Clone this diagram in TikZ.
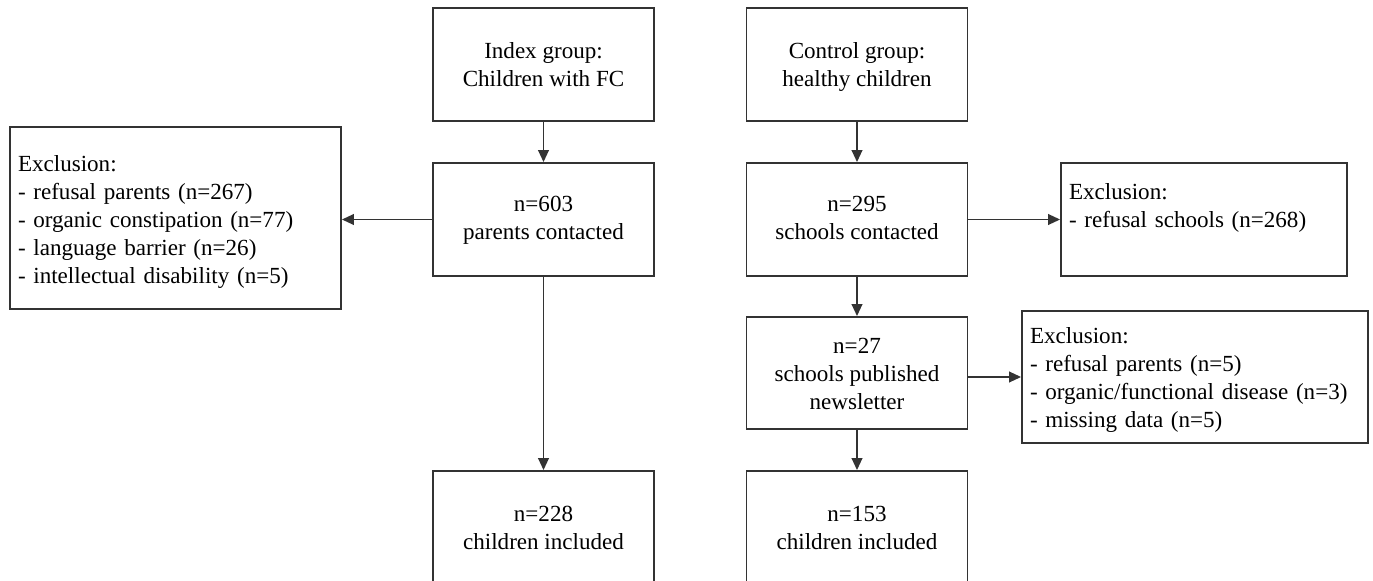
\documentclass[tikz,border=0pt]{standalone}
\usepackage{fontspec}
\setmainfont{Liberation Serif}
\usetikzlibrary{arrows.meta}
\definecolor{linecol}{HTML}{333333}
\newcommand\TopStrut{\rule{0pt}{18.5pt}}
\newcommand\BigTopStrut{\rule{0pt}{20.7pt}}
\begin{document}
\begin{tikzpicture}[x=0.75pt,y=-0.75pt,
  font=\fontsize{17.3pt}{21pt}\selectfont,
  box/.style={draw=linecol, line width=1.4pt, align=center, inner sep=0pt,
    minimum width=165.75pt, minimum height=84.75pt},
  exbox/.style={draw=linecol, line width=1.4pt, align=left, inner xsep=6pt, inner ysep=0pt},
  arr/.style={draw=linecol, line width=1.4pt, -{Triangle[length=9pt,width=8pt]}}]
\useasboundingbox[fill=white] (0,0) rectangle (1373,581);
% left column
\node[box] (idx) at (543.5,64.5) {\TopStrut Index group:\\\strut Children with FC};
\node[box] (par) at (543.5,219.5) {\strut n=603\\\strut parents contacted};
\node[box] (inc1) at (543.5,527.5) {\TopStrut n=228\\\strut children included};
\node[exbox, text width=236.25pt, minimum height=136.5pt] (exL) at (175.5,218)
  {\BigTopStrut Exclusion:\\\strut - refusal parents (n=267)\\\strut - organic constipation (n=77)\\\strut - language barrier (n=26)\\\strut - intellectual disability (n=5)};
% middle column
\node[box] (ctl) at (857,64.5) {\TopStrut Control group:\\\strut healthy children};
\node[box] (sch) at (857,219.5) {\strut n=295\\\strut schools contacted};
\node[box, minimum height=84pt] (n27) at (857,373) {\TopStrut n=27\\\strut schools published\\\strut newsletter};
\node[box] (inc2) at (857,527.5) {\TopStrut n=153\\\strut children included};
% right exclusions
\node[exbox, text width=202.5pt, minimum height=84.75pt] (exR1) at (1204,219.5)
  {\TopStrut Exclusion:\\\strut - refusal schools (n=268)\\\strut};
\node[exbox, text width=247.5pt, minimum height=99pt] (exR2) at (1195,377)
  {\TopStrut Exclusion:\\\strut - refusal parents (n=5)\\\strut - organic/functional disease (n=3)\\\strut - missing data (n=5)};
% connectors
\draw[arr] (idx.south) -- (par.north);
\draw[arr] (par.west) -- (exL.east |- par.west);
\draw[arr] (par.south) -- (inc1.north);
\draw[arr] (ctl.south) -- (sch.north);
\draw[arr] (sch.east) -- (exR1.west);
\draw[arr] (sch.south) -- (n27.north);
\draw[arr] (n27.east |- exR2.west) -- (exR2.west);
\draw[arr] (n27.south) -- (inc2.north);
\end{tikzpicture}
\end{document}
